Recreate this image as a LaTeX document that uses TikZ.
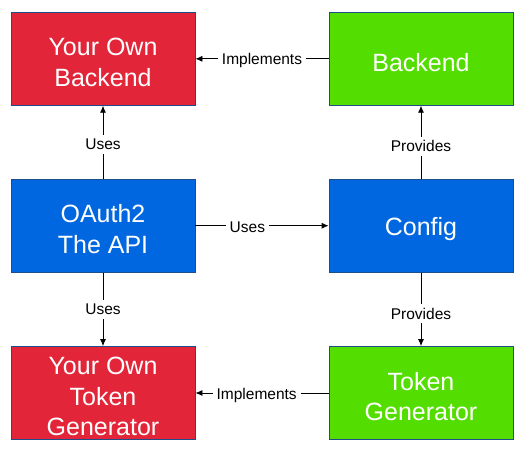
\documentclass[tikz,border=0pt]{standalone}
\usepackage{fontspec}
\setmainfont{Liberation Sans}
\usetikzlibrary{arrows.meta}
\definecolor{redbox}{HTML}{E32539}
\definecolor{greenbox}{HTML}{54DD00}
\definecolor{bluebox}{HTML}{0067E0}
\definecolor{boxline}{HTML}{1D4E89}
\tikzset{
  box/.style={draw=boxline, line width=0.8pt, minimum width=184pt, minimum height=93pt,
    inner sep=0pt},
  boxtext/.style={text=white, align=center, font=\fontsize{25}{30.5}\selectfont, yshift=-3.5pt},
  redb/.style={box, fill=redbox},
  greenb/.style={box, fill=greenbox},
  blueb/.style={box, fill=bluebox},
  conn/.style={line width=0.8pt, -{Latex[length=7pt,width=6pt]}},
  lbl/.style={fill=white, inner sep=4pt, text=black, yshift=-2pt, font=\fontsize{15.5}{18}\selectfont}
}
\begin{document}
\begin{tikzpicture}[x=1pt,y=-1pt]
\useasboundingbox (0,0) rectangle (524,451);
\node[redb, label={[boxtext]center:Your Own\\Backend}] (yob) at (103,58.8) {};
\node[greenb, label={[boxtext]center:Backend}] (be) at (421,58.8) {};
\node[blueb, label={[boxtext]center:OAuth2\\The API}] (api) at (103,225.7) {};
\node[blueb, label={[boxtext]center:Config}] (cfg) at (421,225.7) {};
\node[redb, label={[boxtext]center:Your Own\\Token\\Generator}] (yotg) at (103,393) {};
\node[greenb, label={[boxtext]center:Token\\Generator}] (tg) at (421,393) {};

\draw[conn] (be) -- node[lbl, pos=0.5] {Implements} (yob);
\draw[conn] (api) -- node[lbl, pos=0.5] {Uses} (yob);
\draw[conn] (cfg) -- node[lbl, pos=0.47] {Provides} (be);
\draw[conn] (api) -- node[lbl, pos=0.39] {Uses} (cfg);
\draw[conn] (api) -- node[lbl, pos=0.47] {Uses} (yotg);
\draw[conn] (cfg) -- node[lbl, pos=0.53] {Provides} (tg);
\draw[conn] (tg) -- node[lbl, pos=0.54] {Implements} (yotg);
\end{tikzpicture}
\end{document}
